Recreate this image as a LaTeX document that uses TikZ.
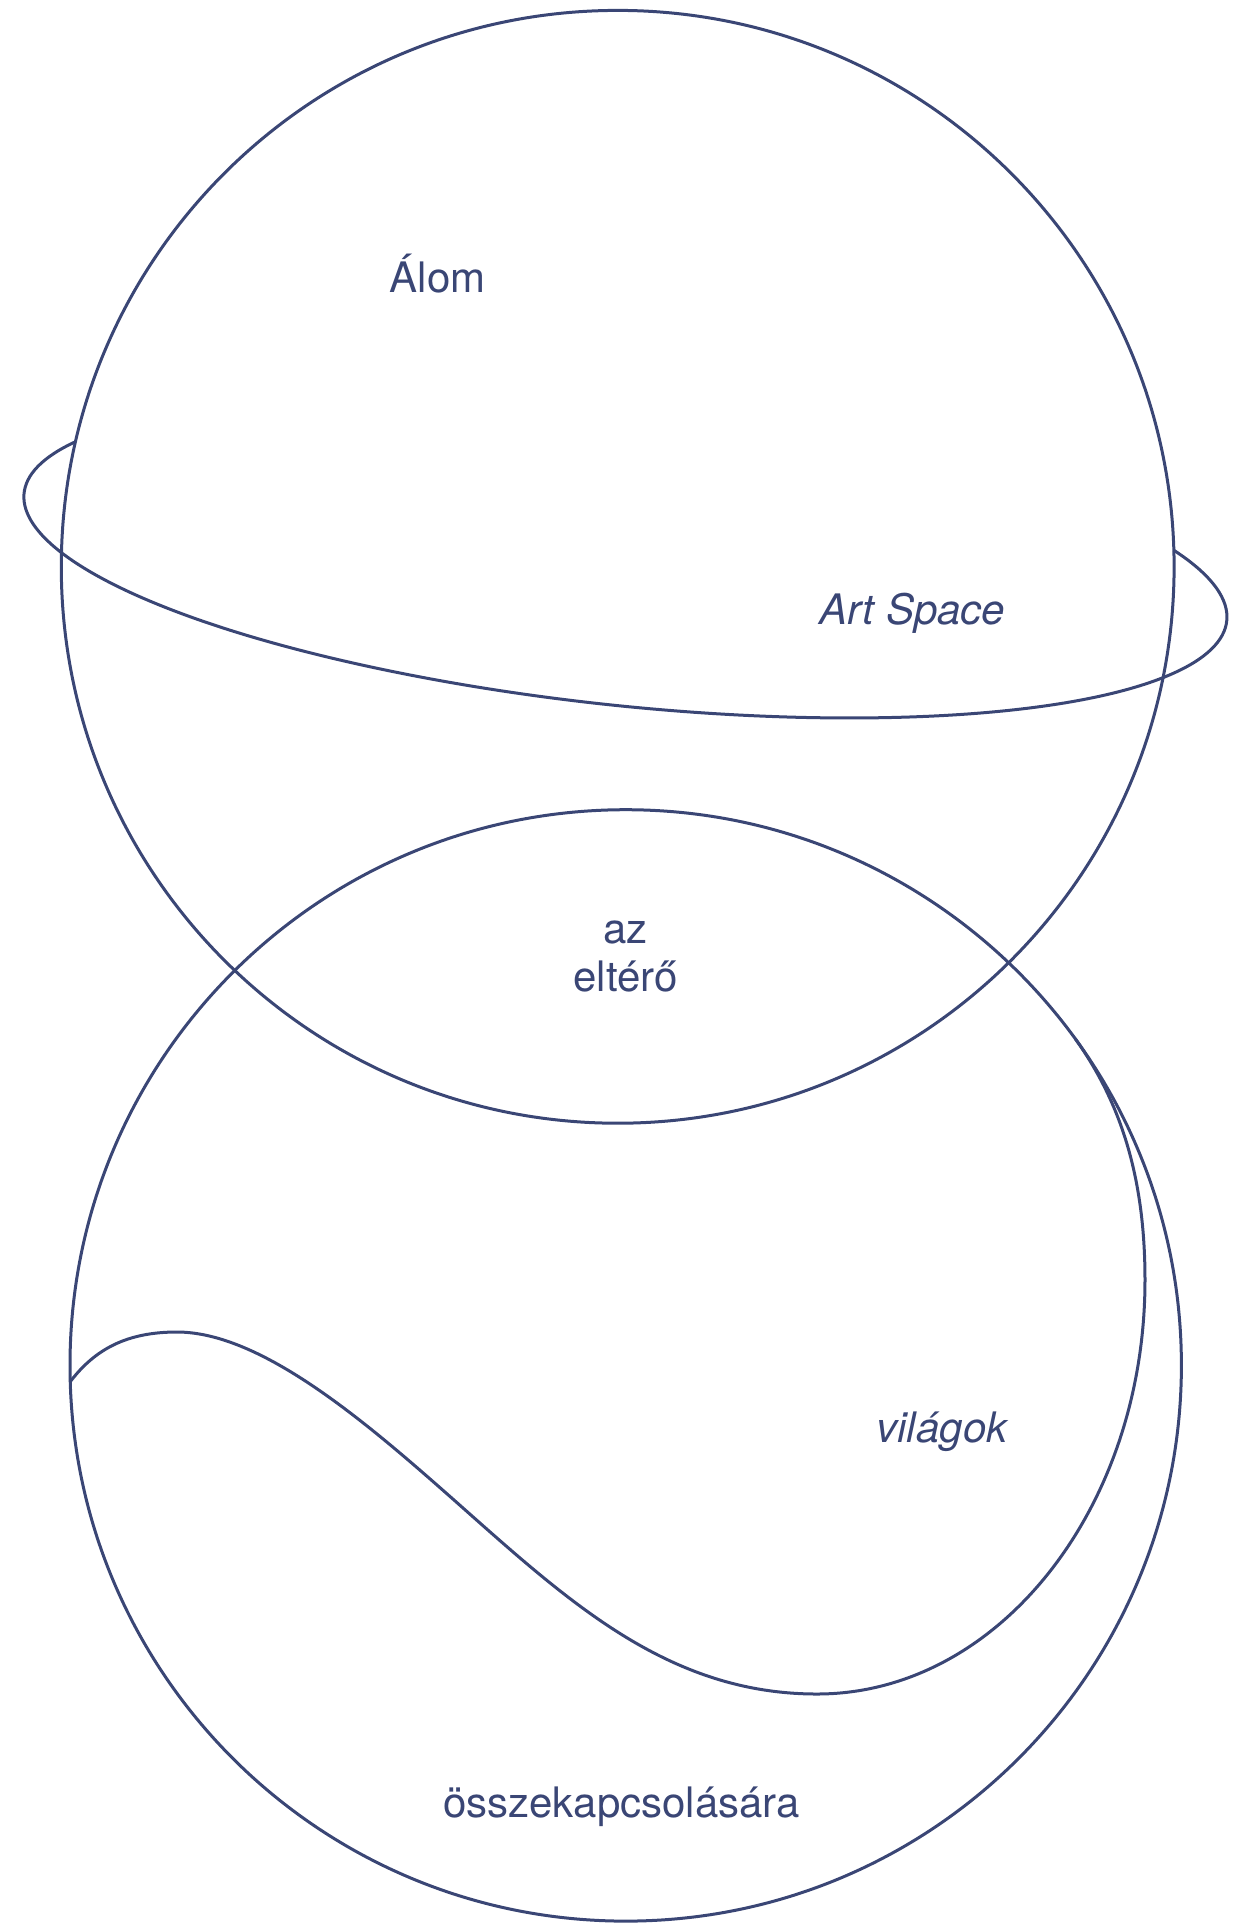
\documentclass[tikz,border=0pt]{standalone}
\usepackage{fontspec}
\setmainfont{TeX Gyre Heros}
\definecolor{ink}{RGB}{58,70,117}
\begin{document}
\begin{tikzpicture}[x=0.5pt,y=0.5pt,
  line/.style={draw=ink, line width=1.5pt},
  lbl/.style={text=ink, font=\fontsize{21}{25}\selectfont, anchor=base, inner sep=0pt}]
\useasboundingbox (0,0) rectangle (1255,-1924);
% top sphere
\draw[line] (617.7,-566.8) circle[radius=556.4];
% ring (back part hidden behind the sphere)
\begin{scope}[shift={(625.5,-557)}, rotate=-6.06]
  \draw[line] (157.6:604.7 and 148.6) arc[start angle=157.6, end angle=385.8, x radius=604.7, y radius=148.6];
\end{scope}
% bottom sphere
\draw[line] (625.7,-1365.4) circle[radius=555.7];
% inner wave
\draw[line] (1075.3,-1038.8) .. controls (1122,-1104) and (1145,-1180) .. (1145,-1280)
  .. controls (1145,-1508.6) and (998,-1694) .. (817,-1694)
  .. controls (667,-1694) and (567,-1600) .. (454,-1500)
  .. controls (368,-1424) and (262,-1332) .. (177,-1332)
  .. controls (127,-1332) and (95,-1349) .. (70,-1382);
% labels
\node[lbl] (alom) at (437.5,-292) {Álom};
\node[lbl] (artspace) at (912.5,-624) {\itshape Art Space};
\node[lbl] (az) at (625.5,-943) {az};
\node[lbl] (elter) at (625.5,-991) {eltérő};
\node[lbl] (vilagok) at (942,-1442) {\itshape világok};
\node[lbl] (ossze) at (621.5,-1817) {összekapcsolására};
\end{tikzpicture}
\end{document}
